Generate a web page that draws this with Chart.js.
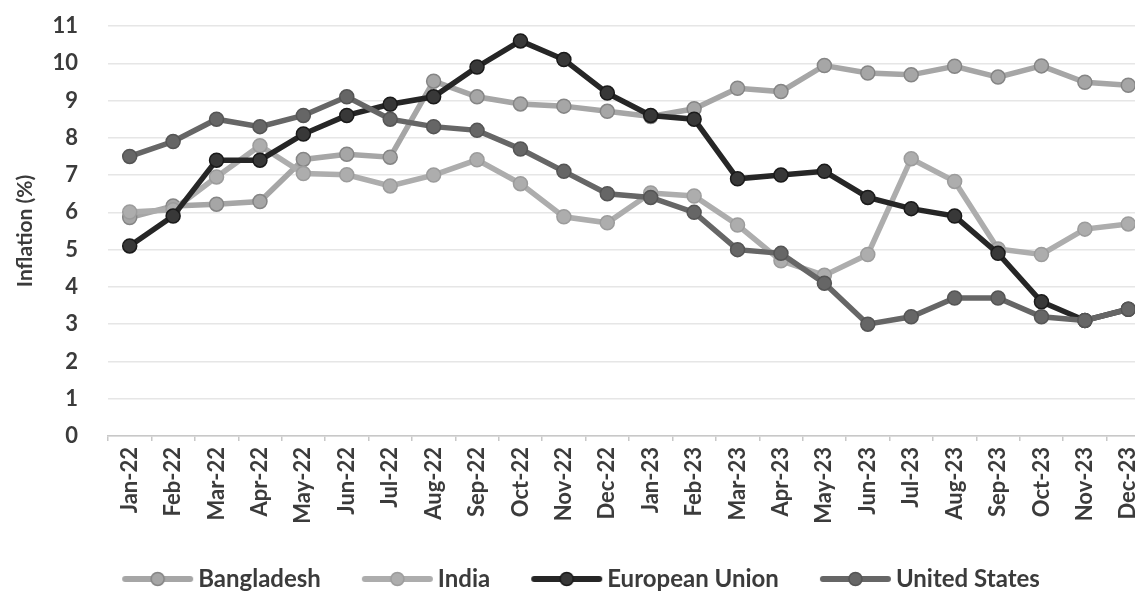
<!DOCTYPE html>
<html>
<head>
<meta charset="utf-8">
<script src="https://cdn.jsdelivr.net/npm/chart.js@4"></script>
<style>
  body { margin: 0; background: #fff; overflow: hidden; }
  #wrap { width: 1172px; height: 591px; }
</style>
</head>
<body>
<div id="wrap"><canvas id="myChart"></canvas></div>
<script>
// Categories and series values (inflation, %)
const months = ['Jan-22', 'Feb-22', 'Mar-22', 'Apr-22', 'May-22', 'Jun-22', 'Jul-22', 'Aug-22',
    'Sep-22', 'Oct-22', 'Nov-22', 'Dec-22', 'Jan-23', 'Feb-23', 'Mar-23', 'Apr-23', 'May-23',
    'Jun-23', 'Jul-23', 'Aug-23', 'Sep-23', 'Oct-23', 'Nov-23', 'Dec-23'];

const bangladesh = [5.86, 6.17, 6.22, 6.29, 7.42, 7.56, 7.48, 9.52, 9.10, 8.91, 8.85, 8.71,
    8.57, 8.78, 9.33, 9.24, 9.94, 9.74, 9.69, 9.92, 9.63, 9.93, 9.49, 9.41];
const india = [6.01, 6.07, 6.95, 7.79, 7.04, 7.01, 6.71, 7.00, 7.41, 6.77, 5.88, 5.72,
    6.52, 6.44, 5.66, 4.70, 4.31, 4.87, 7.44, 6.83, 5.02, 4.87, 5.55, 5.69];
const europeanUnion = [5.1, 5.9, 7.4, 7.4, 8.1, 8.6, 8.9, 9.1, 9.9, 10.6, 10.1, 9.2,
    8.6, 8.5, 6.9, 7.0, 7.1, 6.4, 6.1, 5.9, 4.9, 3.6, 3.1, 3.4];
const unitedStates = [7.5, 7.9, 8.5, 8.3, 8.6, 9.1, 8.5, 8.3, 8.2, 7.7, 7.1, 6.5,
    6.4, 6.0, 5.0, 4.9, 4.1, 3.0, 3.2, 3.7, 3.7, 3.2, 3.1, 3.4];

const yTicks = [0, 1, 2, 3, 4, 5, 6, 7, 8, 9, 10, 11];

const textColor = '#3b3b3b';
const fontFamily = 'Lato, "Open Sans", sans-serif';

// line + marker sample used in the legend
function legendSample(line, fill, border) {
    const c = document.createElement('canvas');
    c.width = 82;
    c.height = 18;
    const g = c.getContext('2d');
    g.strokeStyle = line;
    g.lineWidth = 6;
    g.lineCap = 'round';
    g.beginPath();
    g.moveTo(12, 9);
    g.lineTo(77, 9);
    g.stroke();
    g.beginPath();
    g.arc(44.5, 9, 6.5, 0, Math.PI * 2);
    g.fillStyle = fill;
    g.fill();
    g.lineWidth = 1.5;
    g.strokeStyle = border;
    g.stroke();
    return c;
}

function series(label, data, line, fill, border, order) {
    return {
        label: label,
        data: data,
        borderColor: line,
        backgroundColor: fill,
        pointBackgroundColor: fill,
        pointBorderColor: border,
        pointBorderWidth: 1.5,
        pointRadius: 7,
        borderWidth: 5.5,
        tension: 0,
        order: order,
        sample: legendSample(line, fill, border)
    };
}

const ctx = document.getElementById('myChart').getContext('2d');
const myChart = new Chart(ctx, {
    type: 'line',
    data: {
        labels: months,
        datasets: [
            series('Bangladesh', bangladesh, '#a6a6a6', '#a6a6a6', '#858585', 4),
            series('India', india, '#adadad', '#adadad', '#9c9c9c', 3),
            series('European Union', europeanUnion, '#262626', '#383838', '#1a1a1a', 2),
            series('United States', unitedStates, '#666666', '#666666', '#555555', 1)
        ]
    },
    options: {
        responsive: true,
        maintainAspectRatio: false,
        animation: false,
        layout: { padding: { top: 26, right: 22, bottom: 0, left: 12 } },
        plugins: {
            tooltip: { enabled: false },
            legend: {
                position: 'bottom',
                maxHeight: 65,
                labels: {
                    usePointStyle: true,
                    pointStyleWidth: 64,
                    padding: 41,
                    color: textColor,
                    font: { family: fontFamily, size: 24, weight: 'bold' },
                    generateLabels: chart => chart.data.datasets.map((ds, i) => ({
                        text: ds.label,
                        pointStyle: ds.sample,
                        fillStyle: ds.backgroundColor,
                        strokeStyle: ds.borderColor,
                        lineWidth: 0,
                        fontColor: textColor,
                        datasetIndex: i
                    }))
                }
            }
        },
        scales: {
            x: {
                offset: true,
                afterFit: s => { s.height = 90; },
                grid: {
                    offset: true,
                    drawOnChartArea: false,
                    drawTicks: true,
                    tickLength: 5,
                    color: '#c8c8c8',
                    lineWidth: 1.5
                },
                border: { display: true, color: '#c8c8c8', width: 1.5 },
                ticks: {
                    minRotation: 90,
                    maxRotation: 90,
                    autoSkip: false,
                    padding: 6,
                    color: textColor,
                    font: { family: fontFamily, size: 22, weight: 'bold' }
                }
            },
            y: {
                min: 0,
                max: 11,
                afterFit: s => { s.width = 96; },
                afterBuildTicks: s => { s.ticks = yTicks.map(v => ({ value: v })); },
                grid: {
                    color: '#e6e6e6',
                    lineWidth: 1.5,
                    drawTicks: true,
                    tickLength: 24,
                    tickColor: 'rgba(0,0,0,0)'
                },
                border: { display: false },
                ticks: {
                    padding: 6,
                    color: textColor,
                    font: { family: fontFamily, size: 22, weight: 'bold' }
                },
                title: {
                    display: true,
                    text: 'Inflation (%)',
                    color: textColor,
                    padding: { top: 1, bottom: 0 },
                    font: { family: fontFamily, size: 21, weight: 'bold' }
                }
            }
        }
    }
});
</script>
</body>
</html>
